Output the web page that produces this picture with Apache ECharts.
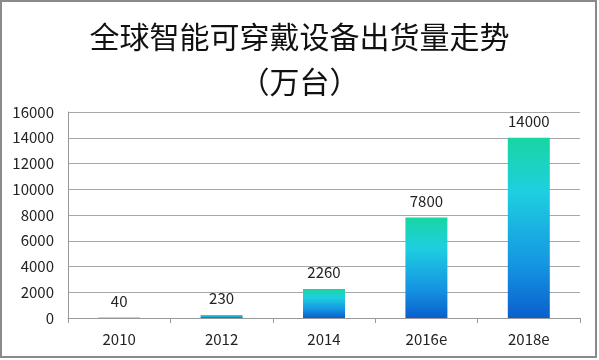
<!DOCTYPE html>
<html>
<head>
<meta charset="utf-8">
<script src="https://cdn.jsdelivr.net/npm/echarts@6/dist/echarts.min.js"></script>
<style>html,body{margin:0;padding:0;background:#fff}#c{width:599px;height:360px}</style>
</head>
<body>
<div id="c"></div>
<script>
const categories = ['2010', '2012', '2014', '2016e', '2018e'];
const shipments = [40, 230, 2260, 7800, 14000];
const yTicks = { min: 0, max: 16000, interval: 2000 };
const titleLines = ['全球智能可穿戴设备出货量走势', '（万台）'];

const chart = echarts.init(document.getElementById('c'), null, { renderer: 'canvas' });
const font = '"Noto Sans CJK SC", "Noto Sans", sans-serif';
chart.setOption({
  backgroundColor: '#fff',
  animation: false,
  title: {
    text: titleLines.join('\n'),
    left: 'center',
    top: 14,
    padding: 0,
    textStyle: { fontFamily: font, fontSize: 30, fontWeight: 'normal', color: '#111', lineHeight: 45 }
  },
  grid: { left: 68, right: 19, top: 112, bottom: 42, containLabel: false },
  xAxis: {
    type: 'category',
    data: categories,
    axisLine: { lineStyle: { color: '#999', width: 1 } },
    axisTick: { show: true, length: 5, lineStyle: { color: '#999' } },
    axisLabel: { fontFamily: font, fontSize: 15, color: '#222', margin: 14 }
  },
  yAxis: {
    type: 'value',
    min: yTicks.min, max: yTicks.max, interval: yTicks.interval,
    axisLine: { show: true, lineStyle: { color: '#999' } },
    axisTick: { show: false },
    axisLabel: { fontFamily: font, fontSize: 15, color: '#222', margin: 14, formatter: v => String(v) },
    splitLine: { lineStyle: { color: '#a8a8a8', width: 1 } }
  },
  series: [{
    type: 'bar',
    data: shipments,
    barWidth: 42,
    itemStyle: {
      color: new echarts.graphic.LinearGradient(0, 0, 0, 1, [
        { offset: 0, color: '#18d6a2' },
        { offset: 0.3, color: '#1ecfe0' },
        { offset: 0.7, color: '#1596e2' },
        { offset: 1, color: '#0a5fcd' }
      ])
    },
    label: { show: true, position: 'top', distance: 9, fontFamily: font, fontSize: 15, color: '#222' }
  }],
  graphic: [{
    type: 'rect',
    shape: { x: 1, y: 1, width: 595, height: 356 },
    style: { fill: 'none', stroke: '#8a8a8a', lineWidth: 2 },
    silent: true
  }]
});
</script>
</body>
</html>
